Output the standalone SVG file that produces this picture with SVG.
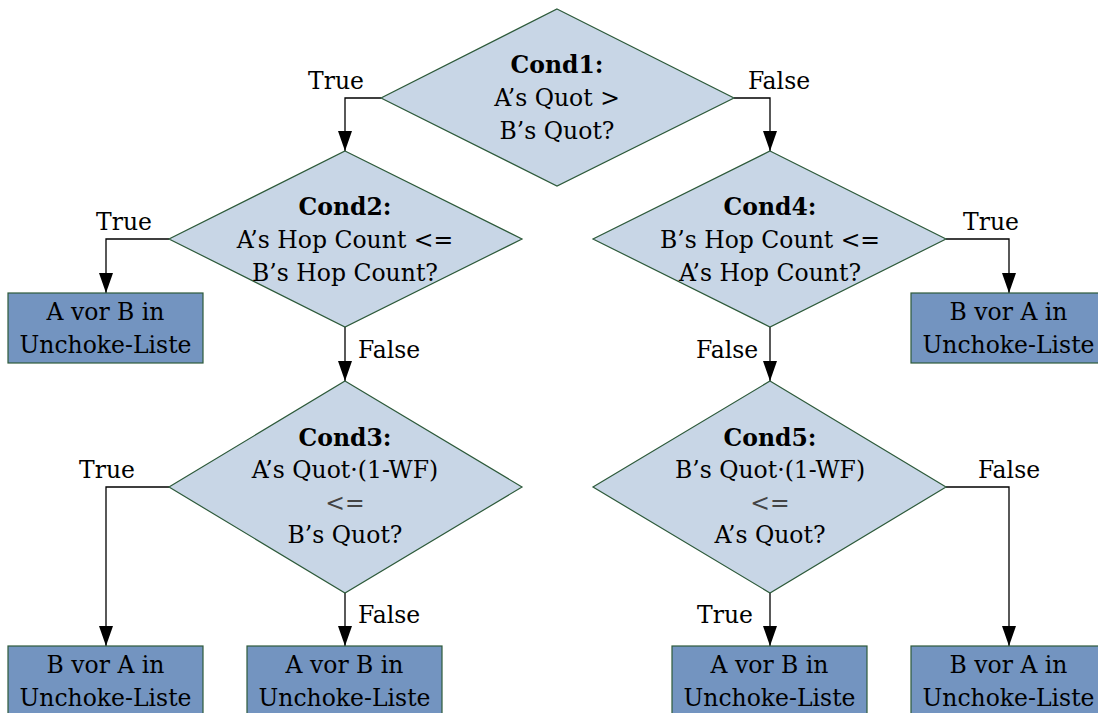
<svg xmlns="http://www.w3.org/2000/svg" width="1098" height="713" viewBox="0 0 1098 713">
  <style>
    text { font-family: "DejaVu Serif", "Liberation Serif", serif; font-size: 23.5px; fill: #000; }
    .c { text-anchor: middle; }
    .b { font-weight: bold; }
    .dec { fill: #c8d6e6; stroke: #2d5a3a; stroke-width: 1.2; }
    .box { fill: #7394c0; stroke: #2d5a3a; stroke-width: 1.2; }
    .edge { fill: none; stroke: #000; stroke-width: 1.3; marker-end: url(#arrow); }
    .thin { fill: #444; }
  </style>
  <defs>
    <marker id="arrow" viewBox="0 0 20 14" refX="20" refY="7" markerWidth="20" markerHeight="14" markerUnits="userSpaceOnUse" orient="auto">
      <path d="M0,0 L20,7 L0,14 Z" fill="#000"/>
    </marker>
  </defs>

  <!-- connectors -->
  <g id="connectors">
    <path class="edge" d="M381,98 H345 V151"/>
    <path class="edge" d="M734,98 H770 V151"/>
    <path class="edge" d="M169,239 H106 V293"/>
    <path class="edge" d="M345,327 V381"/>
    <path class="edge" d="M946,239 H1009 V293"/>
    <path class="edge" d="M770,327 V381"/>
    <path class="edge" d="M169,487 H106 V646"/>
    <path class="edge" d="M345,593 V646"/>
    <path class="edge" d="M770,593 V646"/>
    <path class="edge" d="M946,487 H1009 V646"/>
    <text class="c" x="336" y="89">True</text>
    <text class="c" x="779" y="89">False</text>
    <text class="c" x="124" y="230">True</text>
    <text class="c" x="991" y="230">True</text>
    <text x="358" y="358">False</text>
    <text x="696" y="358">False</text>
    <text class="c" x="107" y="478">True</text>
    <text class="c" x="1009" y="478">False</text>
    <text x="358" y="623">False</text>
    <text x="697" y="623">True</text>
  </g>

  <!-- decisions -->
  <g id="cond1">
    <polygon class="dec" points="557,9 734,98 557,186 381,98"/>
    <text class="c b" x="557" y="73">Cond1:</text>
    <text class="c" x="557" y="106">A’s Quot &gt;</text>
    <text class="c" x="557" y="139">B’s Quot?</text>
  </g>
  <g id="cond2">
    <polygon class="dec" points="345,151 522,239 345,327 169,239"/>
    <text class="c b" x="345" y="215">Cond2:</text>
    <text class="c" x="345" y="248">A’s Hop Count &lt;=</text>
    <text class="c" x="345" y="281">B’s Hop Count?</text>
  </g>
  <g id="cond4">
    <polygon class="dec" points="770,151 946,239 770,327 593,239"/>
    <text class="c b" x="770" y="215">Cond4:</text>
    <text class="c" x="770" y="248">B’s Hop Count &lt;=</text>
    <text class="c" x="770" y="281">A’s Hop Count?</text>
  </g>
  <g id="cond3">
    <polygon class="dec" points="345,381 522,487 345,593 169,487"/>
    <text class="c b" x="345" y="446">Cond3:</text>
    <text class="c" x="345" y="478">A’s Quot·(1-WF)</text>
    <text class="c thin" x="345" y="511">&lt;=</text>
    <text class="c" x="345" y="543">B’s Quot?</text>
  </g>
  <g id="cond5">
    <polygon class="dec" points="770,381 946,487 770,593 593,487"/>
    <text class="c b" x="770" y="446">Cond5:</text>
    <text class="c" x="770" y="478">B’s Quot·(1-WF)</text>
    <text class="c thin" x="770" y="511">&lt;=</text>
    <text class="c" x="770" y="543">A’s Quot?</text>
  </g>

  <!-- outcomes -->
  <g id="res-ab-1">
    <rect class="box" x="8" y="293" width="195" height="70"/>
    <text class="c" x="105.5" y="320">A vor B in</text>
    <text class="c" x="105.5" y="353">Unchoke-Liste</text>
  </g>
  <g id="res-ba-1">
    <rect class="box" x="911" y="293" width="195" height="70"/>
    <text class="c" x="1008.5" y="320">B vor A in</text>
    <text class="c" x="1008.5" y="353">Unchoke-Liste</text>
  </g>
  <g id="res-ba-2">
    <rect class="box" x="8" y="646" width="195" height="70"/>
    <text class="c" x="105.5" y="673">B vor A in</text>
    <text class="c" x="105.5" y="706">Unchoke-Liste</text>
  </g>
  <g id="res-ab-2">
    <rect class="box" x="247" y="646" width="195" height="70"/>
    <text class="c" x="344.5" y="673">A vor B in</text>
    <text class="c" x="344.5" y="706">Unchoke-Liste</text>
  </g>
  <g id="res-ab-3">
    <rect class="box" x="672" y="646" width="195" height="70"/>
    <text class="c" x="769.5" y="673">A vor B in</text>
    <text class="c" x="769.5" y="706">Unchoke-Liste</text>
  </g>
  <g id="res-ba-3">
    <rect class="box" x="911" y="646" width="195" height="70"/>
    <text class="c" x="1008.5" y="673">B vor A in</text>
    <text class="c" x="1008.5" y="706">Unchoke-Liste</text>
  </g>
</svg>
